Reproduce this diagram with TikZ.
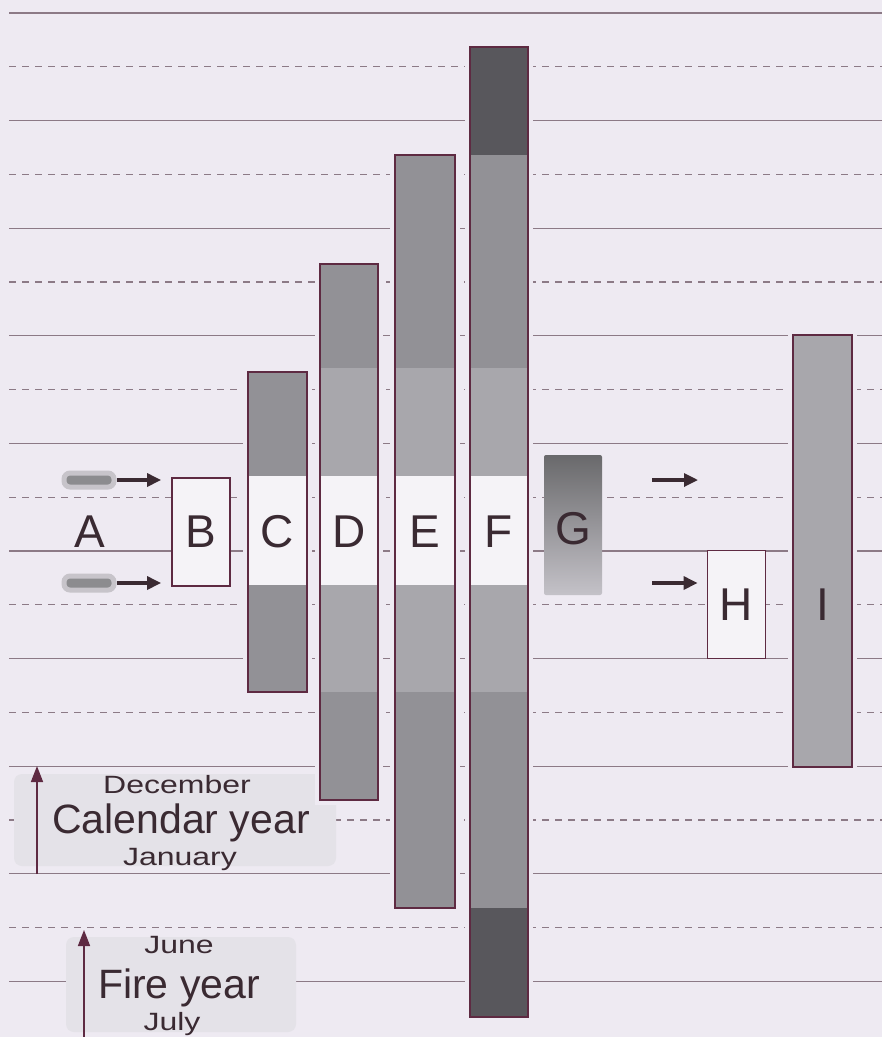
\documentclass[tikz,border=0pt]{standalone}
\usepackage{fontspec}
\setmainfont{Liberation Sans}
\newfontfamily\monthfont[FakeStretch=1.28]{Liberation Sans}
\usetikzlibrary{arrows.meta}

\definecolor{paper}{RGB}{238,234,242}
\definecolor{rule}{RGB}{140,122,134}
\definecolor{edge}{RGB}{94,42,66}
\definecolor{ink}{RGB}{58,42,50}
\definecolor{barlight}{RGB}{168,167,172}
\definecolor{barmid}{RGB}{146,145,150}
\definecolor{bardark}{RGB}{88,87,92}
\definecolor{gap}{RGB}{245,243,247}
\definecolor{tagbox}{RGB}{228,226,232}
\definecolor{blobgray}{RGB}{140,140,143}

\tikzset{
  letter/.style={font=\fontsize{46}{46}\selectfont, text=ink, inner sep=0pt},
  month/.style={font=\monthfont\fontsize{25}{25}\selectfont, text=ink, anchor=base},
  yearname/.style={font=\fontsize{41}{41}\selectfont, text=ink, anchor=base},
  stagebox/.style={draw=edge, line width=1.8pt, fill=gap, minimum width=58pt, minimum height=108pt, inner sep=0pt},
  blob/.style={fill=blobgray, draw=blobgray!40!paper, line width=5pt, rounded corners=6pt, minimum width=50pt, minimum height=14pt},
  flow/.style={->, ink, line width=3.2pt},
  yeararrow/.style={-{Triangle[length=16pt,width=12pt]}, edge, line width=1.6pt}
}

\begin{document}
\begin{tikzpicture}[x=1pt, y=-1pt, >={Triangle[length=14pt,width=13pt]}]
    % paper
    \fill[paper] (0,0) rectangle (882,1037);
    \useasboundingbox (0,0) rectangle (882,1037);

    % ruled lines, solid and dashed by turns
    \foreach \k in {0,2,...,18}
        \draw[rule, line width=1.2pt] (9,{13+53.8*\k}) -- (882,{13+53.8*\k});
    \foreach \k in {1,3,...,17}
        \draw[rule, line width=1.2pt, dash pattern=on 7pt off 6pt] (9,{13+53.8*\k}) -- (882,{13+53.8*\k});

    % shaded boxes behind the year labels
    \fill[tagbox, rounded corners=8pt] (14,774) rectangle (336,866);
    \fill[tagbox, rounded corners=8pt] (66,937) rectangle (296,1032);

    % bars: clear space round them first
    \foreach \xa/\xb/\ya/\yb in {248/307/372/692, 320/378/264/800, 395/455/155/908, 470/528/47/1017, 793/852/335/767}
        \fill[paper] (\xa-5,\ya-5) rectangle (\xb+5,\yb+5);

    % bar bands
    \foreach \xa/\xb/\ya/\yb/\col in {
        248/307/372/476/barmid, 248/307/585/692/barmid,
        320/378/264/368/barmid, 320/378/368/476/barlight, 320/378/585/692/barlight, 320/378/692/800/barmid,
        395/455/155/368/barmid, 395/455/368/476/barlight, 395/455/585/692/barlight, 395/455/692/908/barmid,
        470/528/47/155/bardark, 470/528/155/368/barmid, 470/528/368/476/barlight, 470/528/585/692/barlight,
        470/528/692/908/barmid, 470/528/908/1017/bardark,
        793/852/335/767/barlight}
        \fill[\col] (\xa,\ya) rectangle (\xb,\yb);
    \foreach \xa/\xb in {248/307, 320/378, 395/455, 470/528}
        \fill[gap] (\xa,476) rectangle (\xb,585);

    % bar outlines
    \foreach \xa/\xb/\ya/\yb in {248/307/372/692, 320/378/264/800, 395/455/155/908, 470/528/47/1017, 793/852/335/767}
        \draw[edge, line width=1.8pt] (\xa,\ya) rectangle (\xb,\yb);

    % stages
    \node[letter] (A) at (90,532) {A};
    \node[stagebox] (B) at (201,532) {};
    \node[letter] at (B) {B};
    \node[letter] (C) at (277,532) {C};
    \node[letter] (D) at (349,532) {D};
    \node[letter] (E) at (425,532) {E};
    \node[letter] (F) at (499,532) {F};
    \node[minimum width=58pt, minimum height=140pt, top color=blobgray!75!black, bottom color=barlight!60!paper,
          rounded corners=2pt] (G) at (573,525) {};
    \node[letter] at (573,529) {G};
    \node[stagebox] (H) at (736.5,604.5) {};
    \node[letter] at (H) {H};
    \node[letter] (I) at (823,605) {I};

    % inputs and arrows
    \node[blob] (a1) at (89,480) {};
    \node[blob] (a2) at (89,583) {};
    \draw[flow, shorten >=10pt] (a1.east) -- (B.west |- a1);
    \draw[flow, shorten >=10pt] (a2.east) -- (B.west |- a2);

    \coordinate (g1) at (652,480);
    \coordinate (g1end) at (698,480);
    \coordinate (g2) at (652,583);
    \draw[flow] (g1) -- (g1end);
    \draw[flow, shorten >=9pt] (g2) -- (H.west |- g2);

    % calendar year
    \coordinate (cal0) at (37,874);
    \coordinate (cal1) at (37,766);
    \draw[yeararrow] (cal0) -- (cal1);
    \node[month] (dec) at (177,793) {December};
    \node[yearname] (cal) at (181,833) {Calendar year};
    \node[month] (jan) at (180,865) {January};

    % fire year
    \coordinate (fire0) at (84,1037);
    \coordinate (fire1) at (84,930);
    \draw[yeararrow] (fire0) -- (fire1);
    \node[month] (jun) at (179,953) {June};
    \node[yearname] (fire) at (179,998) {Fire year};
    \node[month] (jul) at (172,1030) {July};
\end{tikzpicture}
\end{document}
